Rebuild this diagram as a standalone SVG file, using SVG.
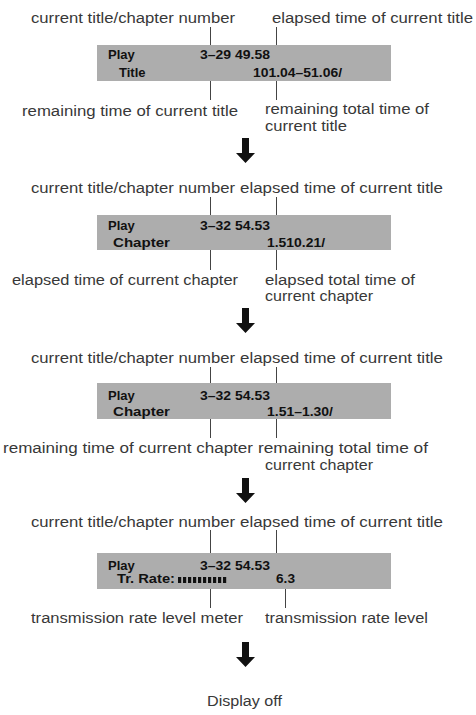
<svg xmlns="http://www.w3.org/2000/svg" width="476" height="715" viewBox="0 0 476 715">
<style>
.lbl{font-family:"Liberation Sans",Arial,sans-serif;font-size:14px;fill:#383838}
.disp{font-family:"Liberation Sans",Arial,sans-serif;font-size:13px;font-weight:bold;fill:#111}
.box{fill:#adadad}
.tick{stroke:#444;stroke-width:1;fill:none}
.arr{fill:#111}
.bar{fill:#111}
</style>
<defs>
<path id="arrow" d="M-3.5 0H3.5V15H9.5L0 25L-9.5 15H-3.5Z"/>
</defs>
<rect width="476" height="715" fill="#fff"/>

<g id="connectors">
  <path class="tick" d="M210.5 27V45M276.5 27V45M210.5 81V100M276.5 81V100"/>
  <path class="tick" d="M210.5 197V215M276.5 197V215M210.5 250V270M276.5 250V270"/>
  <path class="tick" d="M210.5 367V383M276.5 367V383M210.5 419V438M276.5 419V438"/>
  <path class="tick" d="M210.5 530V553M276.5 530V553M210.5 589V608M285.5 589V608"/>
  <use href="#arrow" class="arr" x="245.5" y="138"/>
  <use href="#arrow" class="arr" x="245.5" y="308"/>
  <use href="#arrow" class="arr" x="245.5" y="478"/>
  <use href="#arrow" class="arr" x="245.5" y="642"/>
</g>

<g id="screen1">
  <text class="lbl" x="31" y="22.5" textLength="204" lengthAdjust="spacingAndGlyphs">current title/chapter number</text>
  <text class="lbl" x="272" y="22.5" textLength="201" lengthAdjust="spacingAndGlyphs">elapsed time of current title</text>
  <rect class="box" x="97" y="45" width="294" height="36"/>
  <text class="disp" x="108" y="58.5">Play</text>
  <text class="disp" x="200" y="58.5" textLength="70" lengthAdjust="spacingAndGlyphs">3–29 49.58</text>
  <text class="disp" x="119" y="77">Title</text>
  <text class="disp" x="253" y="77" textLength="89" lengthAdjust="spacingAndGlyphs">101.04–51.06/</text>
  <text class="lbl" x="22" y="116" textLength="216" lengthAdjust="spacingAndGlyphs">remaining time of current title</text>
  <text class="lbl" x="265" y="113.5" textLength="164" lengthAdjust="spacingAndGlyphs">remaining total time of</text>
  <text class="lbl" x="265" y="131" textLength="82" lengthAdjust="spacingAndGlyphs">current title</text>
</g>

<g id="screen2">
  <text class="lbl" x="31" y="192.5" textLength="204" lengthAdjust="spacingAndGlyphs">current title/chapter number</text>
  <text class="lbl" x="240" y="192.5" textLength="203" lengthAdjust="spacingAndGlyphs">elapsed time of current title</text>
  <rect class="box" x="97" y="215" width="294" height="35"/>
  <text class="disp" x="108" y="230">Play</text>
  <text class="disp" x="200" y="230" textLength="70" lengthAdjust="spacingAndGlyphs">3–32 54.53</text>
  <text class="disp" x="113" y="246.5" textLength="57" lengthAdjust="spacingAndGlyphs">Chapter</text>
  <text class="disp" x="267" y="246.5" textLength="58" lengthAdjust="spacingAndGlyphs">1.510.21/</text>
  <text class="lbl" x="12" y="285" textLength="226" lengthAdjust="spacingAndGlyphs">elapsed time of current chapter</text>
  <text class="lbl" x="265" y="285" textLength="150" lengthAdjust="spacingAndGlyphs">elapsed total time of</text>
  <text class="lbl" x="265" y="300.5" textLength="108" lengthAdjust="spacingAndGlyphs">current chapter</text>
</g>

<g id="screen3">
  <text class="lbl" x="31" y="362.5" textLength="204" lengthAdjust="spacingAndGlyphs">current title/chapter number</text>
  <text class="lbl" x="240" y="362.5" textLength="203" lengthAdjust="spacingAndGlyphs">elapsed time of current title</text>
  <rect class="box" x="97" y="383" width="294" height="36"/>
  <text class="disp" x="108" y="400">Play</text>
  <text class="disp" x="200" y="400" textLength="70" lengthAdjust="spacingAndGlyphs">3–32 54.53</text>
  <text class="disp" x="113" y="416" textLength="57" lengthAdjust="spacingAndGlyphs">Chapter</text>
  <text class="disp" x="267" y="416" textLength="66" lengthAdjust="spacingAndGlyphs">1.51–1.30/</text>
  <text class="lbl" x="3" y="453" textLength="250" lengthAdjust="spacingAndGlyphs">remaining time of current chapter</text>
  <text class="lbl" x="258" y="453" textLength="170" lengthAdjust="spacingAndGlyphs">remaining total time of</text>
  <text class="lbl" x="265" y="470" textLength="108" lengthAdjust="spacingAndGlyphs">current chapter</text>
</g>

<g id="screen4">
  <text class="lbl" x="31" y="526.5" textLength="204" lengthAdjust="spacingAndGlyphs">current title/chapter number</text>
  <text class="lbl" x="240" y="526.5" textLength="203" lengthAdjust="spacingAndGlyphs">elapsed time of current title</text>
  <rect class="box" x="97" y="553" width="294" height="36"/>
  <text class="disp" x="108" y="569.5">Play</text>
  <text class="disp" x="200" y="569.5" textLength="70" lengthAdjust="spacingAndGlyphs">3–32 54.53</text>
  <text class="disp" x="117" y="583" textLength="58" lengthAdjust="spacingAndGlyphs">Tr. Rate:</text>
  <g id="meter">
    <rect class="bar" x="178" y="577" width="3.2" height="6"/>
    <rect class="bar" x="183" y="577" width="3.2" height="6"/>
    <rect class="bar" x="188" y="577" width="3.2" height="6"/>
    <rect class="bar" x="193" y="577" width="3.2" height="6"/>
    <rect class="bar" x="198" y="577" width="3.2" height="6"/>
    <rect class="bar" x="203" y="577" width="3.2" height="6"/>
    <rect class="bar" x="208" y="577" width="3.2" height="6"/>
    <rect class="bar" x="213" y="577" width="3.2" height="6"/>
    <rect class="bar" x="218" y="577" width="3.2" height="6"/>
    <rect class="bar" x="223" y="577" width="3.2" height="6"/>
  </g>
  <text class="disp" x="276" y="583" textLength="19" lengthAdjust="spacingAndGlyphs">6.3</text>
  <text class="lbl" x="31" y="623" textLength="212" lengthAdjust="spacingAndGlyphs">transmission rate level meter</text>
  <text class="lbl" x="265" y="623" textLength="163" lengthAdjust="spacingAndGlyphs">transmission rate level</text>
</g>

<g id="display-off">
  <text class="lbl" x="207" y="705.5" textLength="75" lengthAdjust="spacingAndGlyphs">Display off</text>
</g>
</svg>
